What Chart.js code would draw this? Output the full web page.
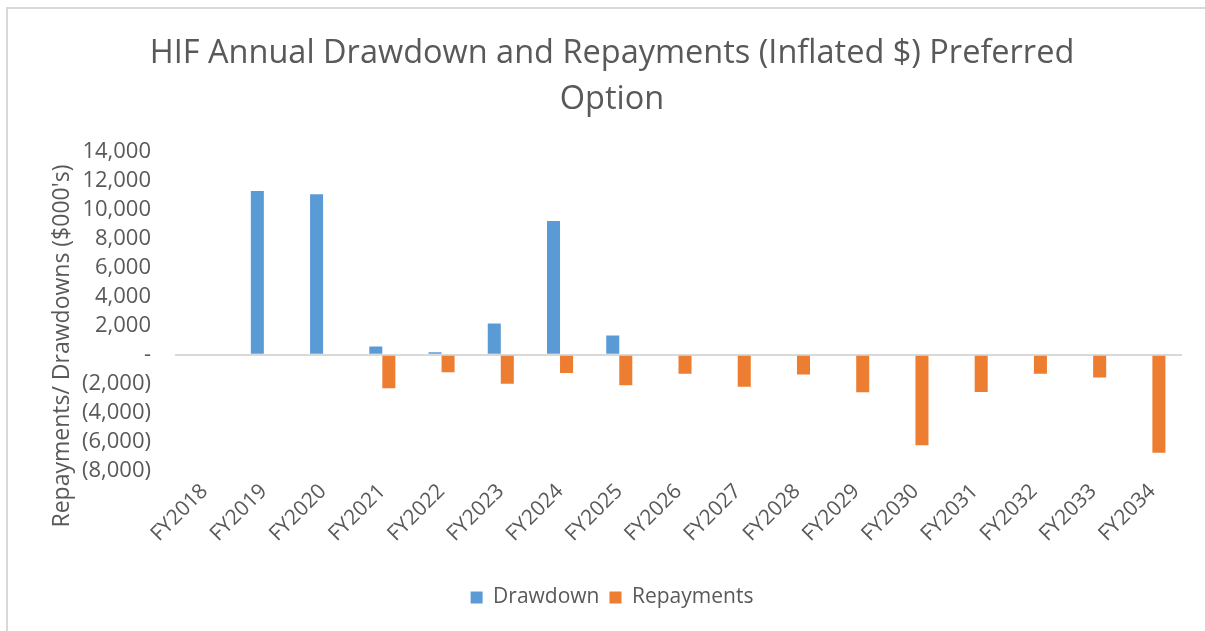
<!DOCTYPE html>
<html>
<head>
<meta charset="utf-8">
<script src="https://cdn.jsdelivr.net/npm/chart.js@4/dist/chart.umd.min.js"></script>
<style>
  html, body { margin: 0; padding: 0; background: #ffffff; }
  #wrap { position: relative; width: 1205px; height: 631px; }
</style>
</head>
<body>
<div id="wrap"><canvas id="c" width="1205" height="631"></canvas></div>
<script>
const categories = ['FY2018','FY2019','FY2020','FY2021','FY2022','FY2023','FY2024','FY2025','FY2026','FY2027','FY2028','FY2029','FY2030','FY2031','FY2032','FY2033','FY2034'];
const drawdown = [0, 11260, 11050, 570, 180, 2150, 9200, 1330, 0, 0, 0, 0, 0, 0, 0, 0, 0];
const repayments = [0, 0, 0, -2300, -1200, -2000, -1250, -2100, -1310, -2200, -1360, -2580, -6230, -2570, -1310, -1570, -6740];
const yMin = -8000, yMax = 14000, yStep = 2000;
const titleLines = ['HIF Annual Drawdown and Repayments (Inflated $) Preferred', 'Option'];
const yTitle = "Repayments/ Drawdowns ($000's)";

const FONT = "'Open Sans', 'Liberation Sans', sans-serif";
const GREY = '#595959';

function fmt(v) {
  if (v === 0) return '-';
  const s = Math.abs(v).toLocaleString('en-US');
  return v < 0 ? '(' + s + ')' : s;
}

const frame = {
  id: 'frame',
  beforeDraw(chart) {
    const ctx = chart.ctx;
    ctx.save();
    ctx.strokeStyle = '#d9d9d9';
    ctx.lineWidth = 2;
    ctx.beginPath();
    ctx.moveTo(7, 631);
    ctx.lineTo(7, 8);
    ctx.lineTo(1205, 8);
    ctx.stroke();
    ctx.restore();
  }
};

const yTitlePlugin = {
  id: 'yTitlePlugin',
  afterDraw(chart) {
    const ctx = chart.ctx;
    ctx.save();
    ctx.translate(62, 346);
    ctx.rotate(-Math.PI / 2);
    ctx.font = '23px ' + FONT;
    ctx.fillStyle = GREY;
    ctx.textAlign = 'center';
    ctx.textBaseline = 'middle';
    ctx.fillText(yTitle, 0, 0);
    ctx.restore();
  }
};

new Chart(document.getElementById('c'), {
  type: 'bar',
  data: {
    labels: categories,
    datasets: [
      { label: 'Drawdown', data: drawdown, backgroundColor: '#5B9BD5', borderWidth: 0, barPercentage: 1, categoryPercentage: 0.44 },
      { label: 'Repayments', data: repayments, backgroundColor: '#ED7D31', borderWidth: 0, barPercentage: 1, categoryPercentage: 0.44 }
    ]
  },
  plugins: [frame, yTitlePlugin],
  options: {
    responsive: false,
    animation: false,
    layout: { padding: { left: 42, right: 23, top: 0, bottom: 13 } },
    plugins: {
      title: {
        display: true,
        text: titleLines,
        color: GREY,
        font: { family: FONT, size: 32.5, weight: 'normal', lineHeight: 1.42 },
        padding: { top: 31, bottom: 28 }
      },
      legend: {
        position: 'bottom',
        labels: {
          color: GREY,
          font: { family: FONT, size: 21 },
          boxWidth: 12,
          boxHeight: 12,
          padding: 10
        }
      },
      tooltip: { enabled: false }
    },
    scales: {
      x: {
        grid: { display: false },
        border: { display: false },
        ticks: {
          color: GREY,
          font: { family: FONT, size: 21 },
          minRotation: 45,
          maxRotation: 45,
          autoSkip: false,
          padding: 0
        },
        afterFit: (s) => { s.height = 106; }
      },
      y: {
        min: yMin,
        max: yMax,
        border: { display: false },
        grid: {
          drawTicks: false,
          lineWidth: 2,
          color: (c) => (c.tick && c.tick.value === 0) ? '#d9d9d9' : 'rgba(0,0,0,0)'
        },
        ticks: {
          stepSize: yStep,
          autoSkip: false,
          color: GREY,
          font: { family: FONT, size: 22, lineHeight: 1.1 },
          padding: 24,
          callback: (v) => fmt(v)
        },
        afterFit: (s) => { s.width = 133; }
      }
    }
  }
});
</script>
</body>
</html>
